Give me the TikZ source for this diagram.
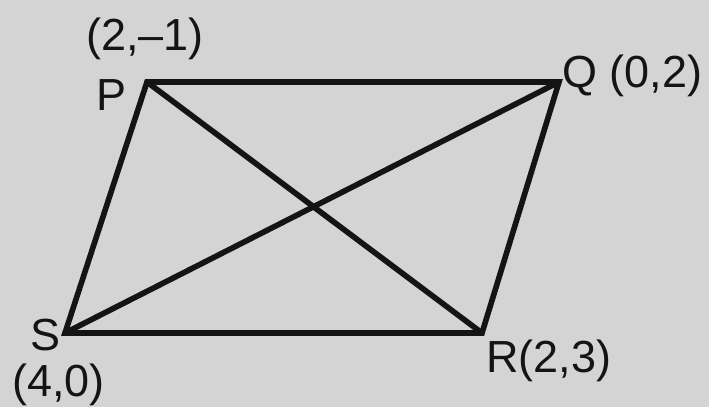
\documentclass[tikz,border=0pt]{standalone}
\usepackage{fontspec}
\setmainfont{Liberation Sans}
\usepackage{xcolor}
\usetikzlibrary{calc}
\definecolor{marble}{RGB}{212,212,212}
\definecolor{inkline}{RGB}{20,20,20}
\tikzset{
  vtxlabel/.style={anchor=base west, inner sep=0pt, text=inkline, font=\fontsize{32}{32}\selectfont},
  sideline/.style={draw=inkline, line width=4pt, line join=miter, line cap=round}
}
\begin{document}
\begin{tikzpicture}
\fill[marble] (0,0) rectangle (17.725,10.175);
\useasboundingbox (0,0) rectangle (17.725,10.175);
% corners
\coordinate (P) at (3.675,8.125);
\coordinate (Q) at (13.975,8.125);
\coordinate (R) at (12.05,1.85);
\coordinate (S) at (1.625,1.85);
% labels
\node[vtxlabel] (pxy) at (2.15,8.925) {(2,–1)};
\node[vtxlabel] (plab) at (2.4,7.425) {P};
\node[vtxlabel] (qlab) at (14.05,8.0) {Q (0,2)};
\node[vtxlabel] (slab) at (0.75,1.42) {S};
\node[vtxlabel] (sxy) at (0.3,0.26) {(4,0)};
\node[vtxlabel] (rlab) at (12.15,0.875) {R(2,3)};
% sides and diagonals
\draw[sideline] (P) -- (Q) -- (R) -- (S) -- cycle;
\draw[sideline] (P) -- (R);
\draw[sideline] (Q) -- (S);
\end{tikzpicture}
\end{document}
